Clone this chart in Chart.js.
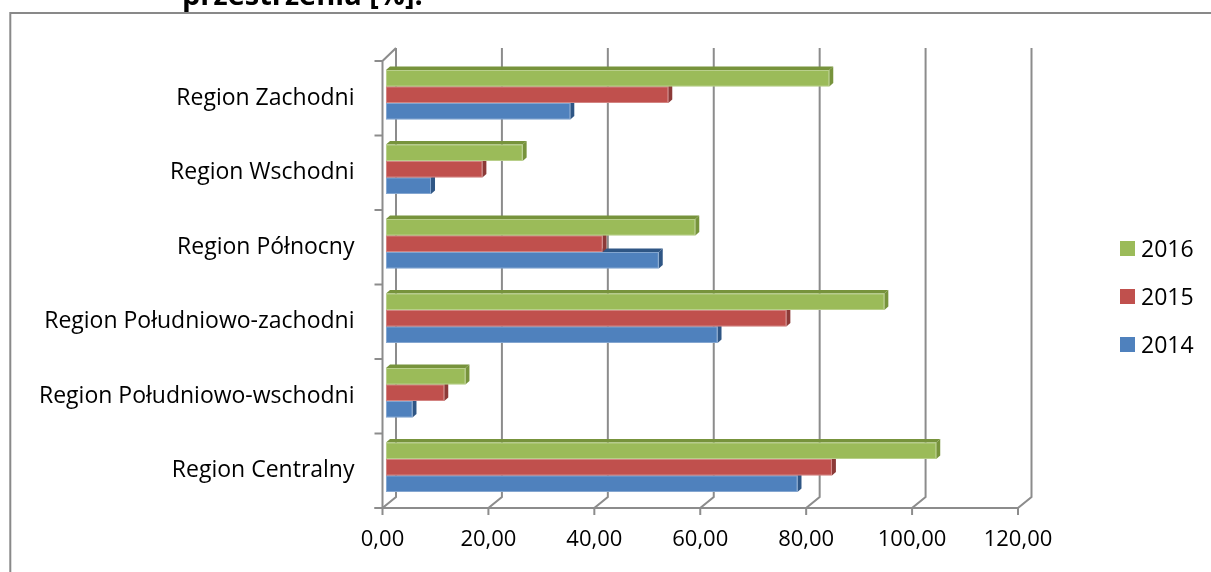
<!DOCTYPE html>
<html>
<head>
<meta charset="utf-8">
<script src="https://cdn.jsdelivr.net/npm/chart.js@4.4.1/dist/chart.umd.min.js"></script>
<style>
  html, body { margin: 0; padding: 0; background: #ffffff; }
  canvas { display: block; }
</style>
</head>
<body>
<canvas id="chart" width="1211" height="572"></canvas>
<script>
// Regions, top to bottom
const categories = [
  'Region Zachodni',
  'Region Wschodni',
  'Region Północny',
  'Region Południowo-zachodni',
  'Region Południowo-wschodni',
  'Region Centralny'
];
const seriesNames = ['2016', '2015', '2014'];
const values2016 = [83.7, 25.8, 58.4, 94.1, 15.0, 103.9];
const values2015 = [53.3, 18.2, 40.9, 75.6, 11.0, 84.2];
const values2014 = [34.8, 8.5, 51.5, 62.6, 5.0, 77.7];
const xTicks = [0, 20, 40, 60, 80, 100, 120];

const frontColors = ['#9BBB59', '#C0504D', '#4F81BD'];
const shadeColors = ['#77933C', '#8C3A38', '#2F5685'];

const FONT = '"Open Sans", "Noto Sans", sans-serif';
const WALL_DX = 13.5;   // depth offset of the back wall
const WALL_DY = -13;
const BAR_DX = 4;       // depth of each bar block
const BAR_DY = -3.5;
const BAR_SHIFT_X = 3.5;
const BAR_SHIFT_Y = -3.5;
const LINE = '#8c8c8c';

const fmt = v => Number(v).toFixed(2).replace('.', ',');

// Frame and the cut-off caption above it
const framePlugin = {
  id: 'frame',
  beforeDraw(chart) {
    const ctx = chart.ctx;
    ctx.save();
    ctx.fillStyle = '#ffffff';
    ctx.fillRect(0, 0, chart.width, chart.height);
    ctx.strokeStyle = '#898989';
    ctx.lineWidth = 2;
    ctx.strokeRect(10.3, 13, 1400, 800);
    ctx.fillStyle = '#000000';
    ctx.font = 'bold 29px ' + FONT;
    ctx.textBaseline = 'alphabetic';
    ctx.textAlign = 'left';
    ctx.fillText('przestrzenia [%].', 182, 5);
    ctx.restore();
  }
};

// 3D walls behind the bars, then the bar blocks themselves
const wallsPlugin = {
  id: 'walls',
  beforeDatasetsDraw(chart) {
    const { ctx, chartArea: a, scales: { x } } = chart;
    ctx.save();
    ctx.strokeStyle = LINE;
    ctx.lineWidth = 2;
    ctx.lineJoin = 'miter';
    // back wall gridlines with their floor diagonals and front ticks
    xTicks.forEach(v => {
      const fx = x.getPixelForValue(v);
      const bx = fx + WALL_DX;
      ctx.beginPath();
      ctx.moveTo(bx, a.top + WALL_DY);
      ctx.lineTo(bx, a.bottom - 11);
      ctx.lineTo(fx, a.bottom);
      ctx.lineTo(fx, a.bottom + 7);
      ctx.stroke();
    });
    // front floor edge
    ctx.beginPath();
    ctx.moveTo(a.left - 8, a.bottom);
    ctx.lineTo(x.getPixelForValue(xTicks[xTicks.length - 1]), a.bottom);
    ctx.stroke();
    // left wall: front edge and top diagonal
    ctx.beginPath();
    ctx.moveTo(a.left, a.bottom);
    ctx.lineTo(a.left, a.top);
    ctx.lineTo(a.left + WALL_DX, a.top + WALL_DY);
    ctx.stroke();
    // category ticks
    const step = (a.bottom - a.top) / categories.length;
    for (let i = 0; i <= categories.length; i++) {
      const y = a.top + i * step;
      ctx.beginPath();
      ctx.moveTo(a.left - 8, y);
      ctx.lineTo(a.left, y);
      ctx.stroke();
    }
    ctx.restore();

    // lowest series first so upper blocks overlap correctly
    ctx.save();
    for (let j = 0; j < categories.length; j++) {
      for (let d = chart.data.datasets.length - 1; d >= 0; d--) {
        const el = chart.getDatasetMeta(d).data[j];
        const p = el.getProps(['x', 'y', 'base', 'height'], true);
        const x0 = p.base + BAR_SHIFT_X;
        const x1 = p.x + BAR_SHIFT_X;
        const y0 = p.y - p.height / 2 + BAR_SHIFT_Y;
        const y1 = p.y + p.height / 2 + BAR_SHIFT_Y;
        ctx.fillStyle = shadeColors[d];
        // top face
        ctx.beginPath();
        ctx.moveTo(x0, y0);
        ctx.lineTo(x0 + BAR_DX, y0 + BAR_DY);
        ctx.lineTo(x1 + BAR_DX, y0 + BAR_DY);
        ctx.lineTo(x1, y0);
        ctx.closePath();
        ctx.fill();
        // side face
        ctx.beginPath();
        ctx.moveTo(x1, y0);
        ctx.lineTo(x1 + BAR_DX, y0 + BAR_DY);
        ctx.lineTo(x1 + BAR_DX, y1 + BAR_DY);
        ctx.lineTo(x1, y1);
        ctx.closePath();
        ctx.fill();
        // front face
        ctx.fillStyle = frontColors[d];
        ctx.fillRect(x0, y0, x1 - x0, y1 - y0);
        ctx.strokeStyle = 'rgba(255,255,255,0.3)';
        ctx.lineWidth = 1;
        ctx.strokeRect(x0 + 0.5, y0 + 0.5, x1 - x0 - 1, y1 - y0 - 1);
      }
    }
    ctx.restore();
    return false;
  }
};

// Legend on the right
const legendPlugin = {
  id: 'sideLegend',
  afterDraw(chart) {
    const ctx = chart.ctx;
    ctx.save();
    ctx.font = '23px ' + FONT;
    ctx.textAlign = 'left';
    ctx.textBaseline = 'alphabetic';
    chart.data.datasets.forEach((ds, i) => {
      const top = 241 + i * 48;
      ctx.fillStyle = ds.backgroundColor;
      ctx.fillRect(1120, top, 15, 15);
      ctx.fillStyle = '#000000';
      ctx.fillText(ds.label, 1141, top + 16);
    });
    ctx.restore();
  }
};

new Chart(document.getElementById('chart'), {
  type: 'bar',
  data: {
    labels: categories,
    datasets: [
      { label: seriesNames[0], data: values2016, backgroundColor: frontColors[0] },
      { label: seriesNames[1], data: values2015, backgroundColor: frontColors[1] },
      { label: seriesNames[2], data: values2014, backgroundColor: frontColors[2] }
    ]
  },
  options: {
    indexAxis: 'y',
    responsive: false,
    animation: false,
    devicePixelRatio: 1,
    layout: { padding: { top: 61, right: 193, bottom: 0, left: 0 } },
    datasets: { bar: { categoryPercentage: 0.664, barPercentage: 1 } },
    plugins: { legend: { display: false }, tooltip: { enabled: false } },
    scales: {
      x: {
        type: 'linear',
        min: 0,
        max: 120,
        afterBuildTicks(scale) { scale.ticks = xTicks.map(v => ({ value: v })); },
        afterFit(scale) { scale.height = 64; },
        grid: { display: false, drawTicks: false },
        border: { display: false },
        ticks: {
          padding: 19,
          color: '#000000',
          font: { family: FONT, size: 22 },
          maxRotation: 0,
          callback: v => fmt(v)
        }
      },
      y: {
        afterFit(scale) { scale.width = 382.5; },
        grid: { display: false, drawTicks: false },
        border: { display: false },
        ticks: {
          padding: 28,
          color: '#000000',
          font: { family: FONT, size: 23 }
        }
      }
    }
  },
  plugins: [framePlugin, wallsPlugin, legendPlugin]
});
</script>
</body>
</html>
